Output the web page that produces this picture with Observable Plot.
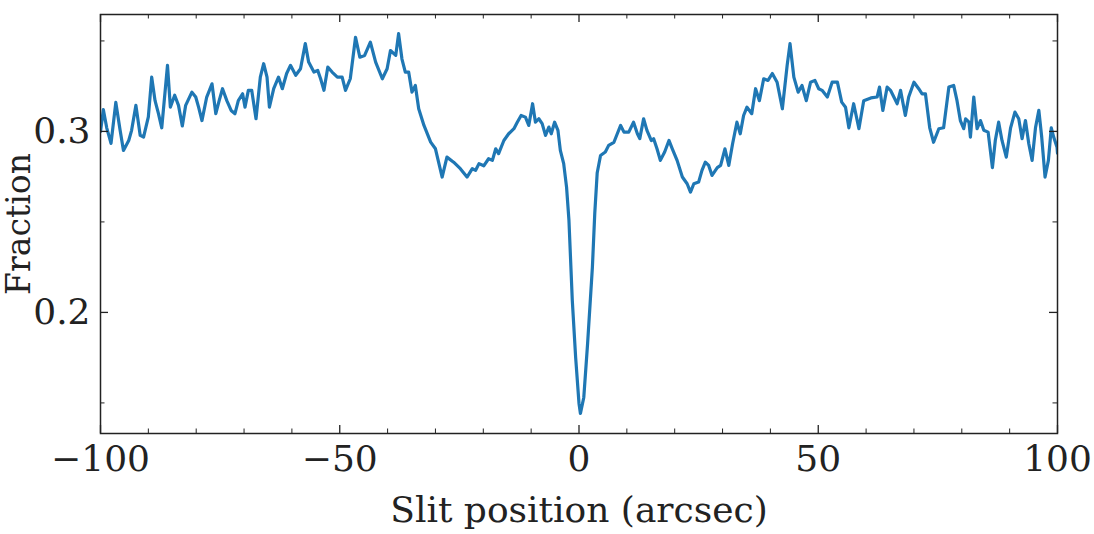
<!DOCTYPE html>
<html>
<head>
<meta charset="utf-8">
<script src="https://cdn.jsdelivr.net/npm/d3@7"></script>
<script src="https://cdn.jsdelivr.net/npm/@observablehq/plot@0.6"></script>
<style>
  html, body { margin: 0; padding: 0; background: #fff; }
  #chart { width: 1094px; height: 534px; overflow: hidden; }
</style>
</head>
<body>
<div id="chart"></div>
<script>
// Slit position (arcsec)
const slitPos = [
  -100, -99.4, -98.7, -97.8, -96.8, -95.9, -95.2, -94.1, -93.5, -92.6, -91.7, -91.0, -90.0, -89.3, -88.6, -87.9, -87.2, -86.0, -85.4, -84.5,
  -83.7, -82.9, -82.2, -80.9, -80.1, -79.5, -78.8, -77.8, -76.7, -75.9, -75.2, -74.5, -73.6, -72.7, -71.9, -71.2, -70.3, -69.8, -69.1, -68.4,
  -67.5, -66.6, -65.9, -65.2, -64.7, -63.8, -62.8, -62.0, -61.1, -60.3, -59.2, -58.2, -57.2, -56.5, -55.4, -54.6, -54.0, -53.3, -52.5, -51.6,
  -50.5, -49.5, -48.8, -47.8, -46.7, -45.8, -44.8, -43.6, -42.5, -41.1, -40.1, -39.4, -38.3, -37.7, -37.0, -36.3, -35.6, -34.9, -34.2, -33.5,
  -32.4, -31.0, -30.0, -28.6, -27.6, -26.2, -24.8, -23.4, -22.3, -21.6, -20.9, -19.9, -18.9, -18.1, -17.4, -16.8, -15.7, -14.7, -13.6, -12.9,
  -12.1, -11.2, -10.5, -9.7, -9.1, -8.4, -7.7, -7.0, -6.3, -5.8, -5.1, -4.4, -3.9, -3.2, -2.6, -2.1, -1.4, -0.7, 0.0, 0.3,
  1.0, 1.8, 2.8, 3.3, 3.8, 4.5, 5.5, 6.2, 7.3, 8.0, 8.7, 9.4, 10.4, 11.4, 12.2, 12.7, 13.5, 14.2, 15.1, 15.6,
  16.3, 17.0, 17.9, 18.8, 19.5, 20.5, 21.6, 22.6, 23.3, 24.0, 25.0, 25.7, 26.4, 27.1, 27.8, 28.9, 29.6, 30.5, 31.3, 32.1,
  33.0, 33.7, 34.4, 35.1, 36.1, 36.9, 37.7, 38.6, 39.5, 40.4, 41.4, 42.5, 43.5, 44.1, 44.9, 45.8, 46.6, 47.5, 48.4, 49.3,
  50.1, 50.8, 51.9, 52.9, 54.0, 54.9, 55.7, 56.4, 57.4, 58.5, 59.5, 61.0, 62.3, 62.8, 63.5, 64.4, 65.1, 65.8, 66.5, 67.2,
  68.2, 68.9, 70.0, 71.0, 71.7, 72.4, 73.3, 74.1, 75.2, 76.2, 77.3, 78.3, 79.0, 79.7, 80.4, 80.8, 81.5, 81.8, 82.5, 83.2,
  83.9, 84.6, 85.5, 86.4, 87.0, 87.7, 88.4, 89.3, 90.2, 91.1, 91.9, 92.6, 93.3, 94.0, 94.7, 95.4, 96.1, 96.7, 97.4, 98.1,
  98.7, 99.2, 99.9, 100
];
// Fraction
const fraction = [
  0.300, 0.312, 0.302, 0.2934, 0.316, 0.3006, 0.2895, 0.295, 0.3006, 0.3144, 0.2978, 0.2969, 0.308, 0.330, 0.317, 0.310, 0.302, 0.3365, 0.3134, 0.320,
  0.3144, 0.303, 0.3144, 0.3217, 0.319, 0.3134, 0.306, 0.319, 0.3263, 0.3098, 0.317, 0.3236, 0.317, 0.3116, 0.3098, 0.317, 0.3208, 0.3134, 0.3227, 0.3227,
  0.307, 0.330, 0.3374, 0.330, 0.3134, 0.3236, 0.330, 0.3236, 0.332, 0.3365, 0.331, 0.3346, 0.3485, 0.3383, 0.3328, 0.3337, 0.3291, 0.3227, 0.3355, 0.3328,
  0.330, 0.330, 0.3227, 0.3291, 0.352, 0.341, 0.342, 0.3493, 0.3383, 0.3291, 0.3346, 0.3447, 0.342, 0.354, 0.340, 0.3328, 0.3328, 0.3217, 0.3254, 0.3125,
  0.3033, 0.2941, 0.2904, 0.2748, 0.2858, 0.283, 0.2794, 0.2748, 0.2794, 0.2785, 0.2822, 0.281, 0.2849, 0.284, 0.2904, 0.2877, 0.295, 0.2987, 0.3015, 0.3051,
  0.3088, 0.3079, 0.3033, 0.3153, 0.3051, 0.307, 0.3043, 0.2978, 0.3024, 0.2987, 0.3051, 0.3006, 0.2895, 0.2822, 0.2692, 0.2508, 0.2066, 0.1751, 0.1497, 0.1442,
  0.153, 0.1829, 0.225, 0.255, 0.277, 0.2867, 0.2886, 0.2923, 0.294, 0.2987, 0.3033, 0.2996, 0.2996, 0.3051, 0.2987, 0.296, 0.307, 0.3006, 0.295, 0.296,
  0.2904, 0.284, 0.2886, 0.295, 0.2904, 0.284, 0.2748, 0.2711, 0.2665, 0.2711, 0.272, 0.2785, 0.283, 0.2812, 0.2757, 0.280, 0.2812, 0.2904, 0.2812, 0.2932,
  0.3051, 0.2987, 0.3088, 0.3134, 0.3098, 0.3236, 0.317, 0.3291, 0.3282, 0.332, 0.3272, 0.3125, 0.3365, 0.3485, 0.330, 0.3217, 0.3254, 0.317, 0.3272, 0.3282,
  0.3236, 0.3227, 0.319, 0.3272, 0.3272, 0.3162, 0.3134, 0.302, 0.3153, 0.3015, 0.317, 0.3185, 0.319, 0.3245, 0.3116, 0.3245, 0.3227, 0.319, 0.3153, 0.3227,
  0.3088, 0.319, 0.3272, 0.3236, 0.3208, 0.3208, 0.302, 0.294, 0.3015, 0.302, 0.3245, 0.3254, 0.317, 0.306, 0.3015, 0.307, 0.3051, 0.2969, 0.319, 0.3015,
  0.306, 0.3006, 0.2996, 0.280, 0.295, 0.3051, 0.295, 0.2858, 0.302, 0.3107, 0.307, 0.296, 0.306, 0.2932, 0.284, 0.302, 0.3116, 0.2969, 0.2748, 0.284,
  0.302, 0.2969, 0.2913, 0.288
];
const xMajorTicks = [-100, -50, 0, 50, 100];
const xMinorTicks = [-90, -80, -70, -60, -40, -30, -20, -10, 10, 20, 30, 40, 60, 70, 80, 90];
const yMajorTicks = [0.2, 0.3];
const yMinorTicks = [0.15, 0.25, 0.35];
const xLabel = "Slit position (arcsec)";
const yLabel = "Fraction";

const data = slitPos.map((x, i) => ({x, y: fraction[i]}));

const W = 1094, H = 534;
const mL = 100, mR = 37, mT = 14, mB = 101;
const plotW = W - mL - mR, plotH = H - mT - mB;
const majLen = 8, minLen = 4.5;
const axisColor = "#222";

const chart = Plot.plot({
  width: W,
  height: H,
  marginLeft: mL,
  marginRight: mR,
  marginTop: mT,
  marginBottom: mB,
  style: {fontFamily: "'DejaVu Serif', serif", fontSize: "36px", color: "#222", background: "#fff"},
  x: {domain: [-100, 100]},
  y: {domain: [0.1331, 0.3646]},
  marks: [
    Plot.line(data, {x: "x", y: "y", stroke: "#1f77b4", strokeWidth: 3.2, strokeLinejoin: "round", strokeLinecap: "round", clip: true}),
    // inward ticks, bottom & top
    Plot.ruleX(xMajorTicks, {x: d => d, insetTop: plotH - majLen, stroke: axisColor, strokeWidth: 1.3}),
    Plot.ruleX(xMajorTicks, {x: d => d, insetBottom: plotH - majLen, stroke: axisColor, strokeWidth: 1.3}),
    Plot.ruleX(xMinorTicks, {x: d => d, insetTop: plotH - minLen, stroke: axisColor, strokeWidth: 1}),
    Plot.ruleX(xMinorTicks, {x: d => d, insetBottom: plotH - minLen, stroke: axisColor, strokeWidth: 1}),
    // inward ticks, left & right
    Plot.ruleY(yMajorTicks, {y: d => d, insetRight: plotW - majLen, stroke: axisColor, strokeWidth: 1.3}),
    Plot.ruleY(yMajorTicks, {y: d => d, insetLeft: plotW - majLen, stroke: axisColor, strokeWidth: 1.3}),
    Plot.ruleY(yMinorTicks, {y: d => d, insetRight: plotW - minLen, stroke: axisColor, strokeWidth: 1}),
    Plot.ruleY(yMinorTicks, {y: d => d, insetLeft: plotW - minLen, stroke: axisColor, strokeWidth: 1}),
    Plot.frame({stroke: axisColor, strokeWidth: 1.5}),
    Plot.axisX({ticks: xMajorTicks, tickSize: 0, tickPadding: 12, label: xLabel, labelAnchor: "center", labelArrow: "none", labelOffset: 88, fill: "#222"}),
    Plot.axisY({ticks: yMajorTicks, tickSize: 0, tickPadding: 10, tickFormat: d3.format(".1f"), label: null, fill: "#222"}),
    Plot.text([yLabel], {text: d => d, frameAnchor: "left", rotate: -90, dx: -94, lineAnchor: "top", textAnchor: "middle", fontSize: 33, fill: "#222"})
  ]
});
document.getElementById("chart").appendChild(chart);
</script>
</body>
</html>
